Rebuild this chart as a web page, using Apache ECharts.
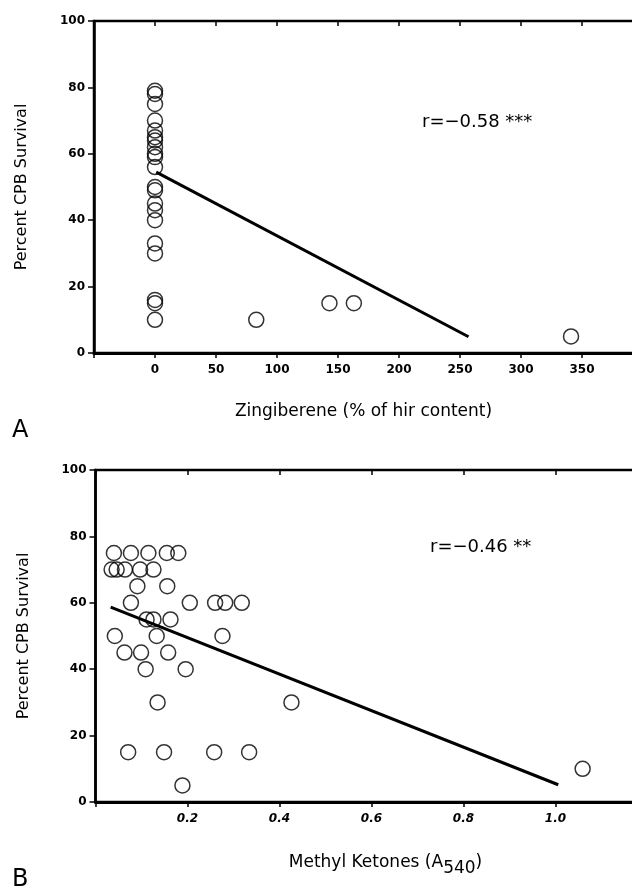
<!DOCTYPE html>
<html>
<head>
<meta charset="utf-8">
<script src="https://cdn.jsdelivr.net/npm/echarts@6/dist/echarts.min.js"></script>
<style>
  html, body { margin: 0; padding: 0; background: #fff; }
  #chart { width: 632px; height: 893px; }
</style>
</head>
<body>
<div id="chart"></div>
<script>
// panel A: zingiberene vs survival
const zingX = [0, 0, 0, 0, 0, 0, 0, 0, 0, 0, 0, 0, 0, 0, 0, 0, 0, 0, 0, 0, 0, 83, 143, 163, 341]
const zingY = [79, 78, 75, 70, 67, 65, 64, 62, 60, 59, 56, 50, 49, 45, 43, 40, 33, 30, 16, 15, 10, 10, 15, 15, 5]
const fitAX = [1, 257]
const fitAY = [54.5, 4.9]

// panel B: methyl ketones vs survival
const ketX = [0.040, 0.077, 0.115, 0.155, 0.180,
  0.035, 0.046, 0.064, 0.097, 0.126,
  0.091, 0.156,
  0.077, 0.205, 0.260, 0.282, 0.318,
  0.111, 0.126, 0.163,
  0.042, 0.133, 0.276,
  0.063, 0.099, 0.158,
  0.109, 0.196,
  0.135, 0.426,
  0.071, 0.149, 0.258, 0.334,
  0.189, 1.059]
const ketY = [75, 75, 75, 75, 75,
  70, 70, 70, 70, 70,
  65, 65,
  60, 60, 60, 60, 60,
  55, 55, 55,
  50, 50, 50,
  45, 45, 45,
  40, 40,
  30, 30,
  15, 15, 15, 15,
  5, 10]
const fitBX = [0.033, 1.006]
const fitBY = [58.7, 5.2]

const font = 'DejaVu Sans'
const pairs = (xs, ys) => xs.map((x, i) => [x, ys[i]])

const tickLabel = { color: '#000', fontFamily: font, fontSize: 12, fontWeight: 'bold', margin: 11 }
const axisName = { color: '#000', fontFamily: font, fontSize: 16 }

function mainX (grid, min, max, interval, fmt, extra) {
  return Object.assign({
    type: 'value', gridIndex: grid, min: min, max: max, interval: interval,
    axisLine: { show: true, onZero: false, lineStyle: { color: '#000', width: 3 } },
    axisTick: { show: true, length: 5, lineStyle: { color: '#000', width: 1.5 } },
    axisLabel: Object.assign({ formatter: fmt }, tickLabel),
    splitLine: { show: false }
  }, extra)
}
function innerX (grid, min, max, interval) {
  return {
    type: 'value', gridIndex: grid, min: min, max: max, interval: interval,
    axisLine: { show: false, onZero: false },
    axisTick: { show: true, inside: true, length: 5, lineStyle: { color: '#000', width: 1.5 } },
    axisLabel: { show: false }, splitLine: { show: false }
  }
}
function mainY (grid) {
  return {
    type: 'value', gridIndex: grid, min: 0, max: 100, interval: 20,
    name: 'Percent CPB Survival', nameLocation: 'middle', nameGap: 64,
    nameTextStyle: axisName,
    axisLine: { show: true, onZero: false, lineStyle: { color: '#000', width: 2.5 } },
    axisTick: { show: true, length: 6, lineStyle: { color: '#000', width: 1.5 } },
    axisLabel: Object.assign({}, tickLabel, { margin: 9 }),
    splitLine: { show: false }
  }
}
function innerY (grid) {
  return {
    type: 'value', gridIndex: grid, min: 0, max: 100, interval: 20,
    axisLine: { show: false, onZero: false },
    axisTick: { show: true, inside: true, length: 5, lineStyle: { color: '#000', width: 1.5 } },
    axisLabel: { show: false }, splitLine: { show: false }
  }
}

const circles = {
  type: 'scatter', symbol: 'circle', symbolSize: 15,
  itemStyle: { color: 'rgba(255,255,255,0)', borderColor: '#000', borderWidth: 1.5 },
  silent: true
}
const fitLine = {
  type: 'line', symbol: 'none', silent: true,
  lineStyle: { color: '#000', width: 3 }
}

const option = {
  backgroundColor: '#fff',
  animation: false,
  grid: [
    { left: 94, top: 21, width: 549, height: 332, outerBoundsMode: 'none', show: true, borderColor: '#000', borderWidth: 2.5 },
    { left: 95.5, top: 470, width: 552, height: 332, outerBoundsMode: 'none', show: true, borderColor: '#000', borderWidth: 2.5 }
  ],
  xAxis: [
    mainX(0, -50, 400, 50, v => (v < 0 || v >= 400 ? '' : String(v)), {
      name: 'Zingiberene (% of hir content)', nameLocation: 'middle', nameGap: 50,
      nameTextStyle: Object.assign({}, axisName, { fontSize: 17, padding: [0, 10, 0, 0] })
    }),
    innerX(0, -50, 400, 50),
    mainX(1, 0, 1.2, 0.2, v => (v === 0 ? '' : v.toFixed(1)), {
      axisLabel: Object.assign({ formatter: v => (v === 0 || v > 1.1 ? '' : v.toFixed(1)) }, tickLabel, { fontStyle: 'italic' }),
      name: 'Methyl Ketones (A{sub|540})', nameLocation: 'middle', nameGap: 46,
      nameTextStyle: Object.assign({}, axisName, {
        fontSize: 17, padding: [0, 0, 0, 28],
        rich: { sub: { fontFamily: font, fontSize: 17, color: '#000', padding: [12, 0, 0, 0] } }
      })
    }),
    innerX(1, 0, 1.2, 0.2)
  ],
  yAxis: [mainY(0), innerY(0), mainY(1), innerY(1)],
  graphic: [
    { type: 'text', left: 422, top: 113, style: { text: 'r=\u22120.58 ***', font: '18px "DejaVu Sans"', fill: '#000' } },
    { type: 'text', left: 430, top: 538, style: { text: 'r=\u22120.46 **', font: '18px "DejaVu Sans"', fill: '#000' } },
    { type: 'text', left: 12, top: 419, style: { text: 'A', font: '24px "DejaVu Sans"', fill: '#000' } },
    { type: 'text', left: 12, top: 868, style: { text: 'B', font: '24px "DejaVu Sans"', fill: '#000' } }
  ],
  series: [
    Object.assign({}, circles, { xAxisIndex: 0, yAxisIndex: 0, data: pairs(zingX, zingY) }),
    Object.assign({}, fitLine, { xAxisIndex: 0, yAxisIndex: 0, data: pairs(fitAX, fitAY) }),
    Object.assign({}, circles, { xAxisIndex: 2, yAxisIndex: 2, data: pairs(ketX, ketY) }),
    Object.assign({}, fitLine, { xAxisIndex: 2, yAxisIndex: 2, data: pairs(fitBX, fitBY) })
  ]
}

const chart = echarts.init(document.getElementById('chart'), null, { renderer: 'canvas' })
chart.setOption(option)
window.addEventListener('resize', () => chart.resize())
</script>
</body>
</html>
